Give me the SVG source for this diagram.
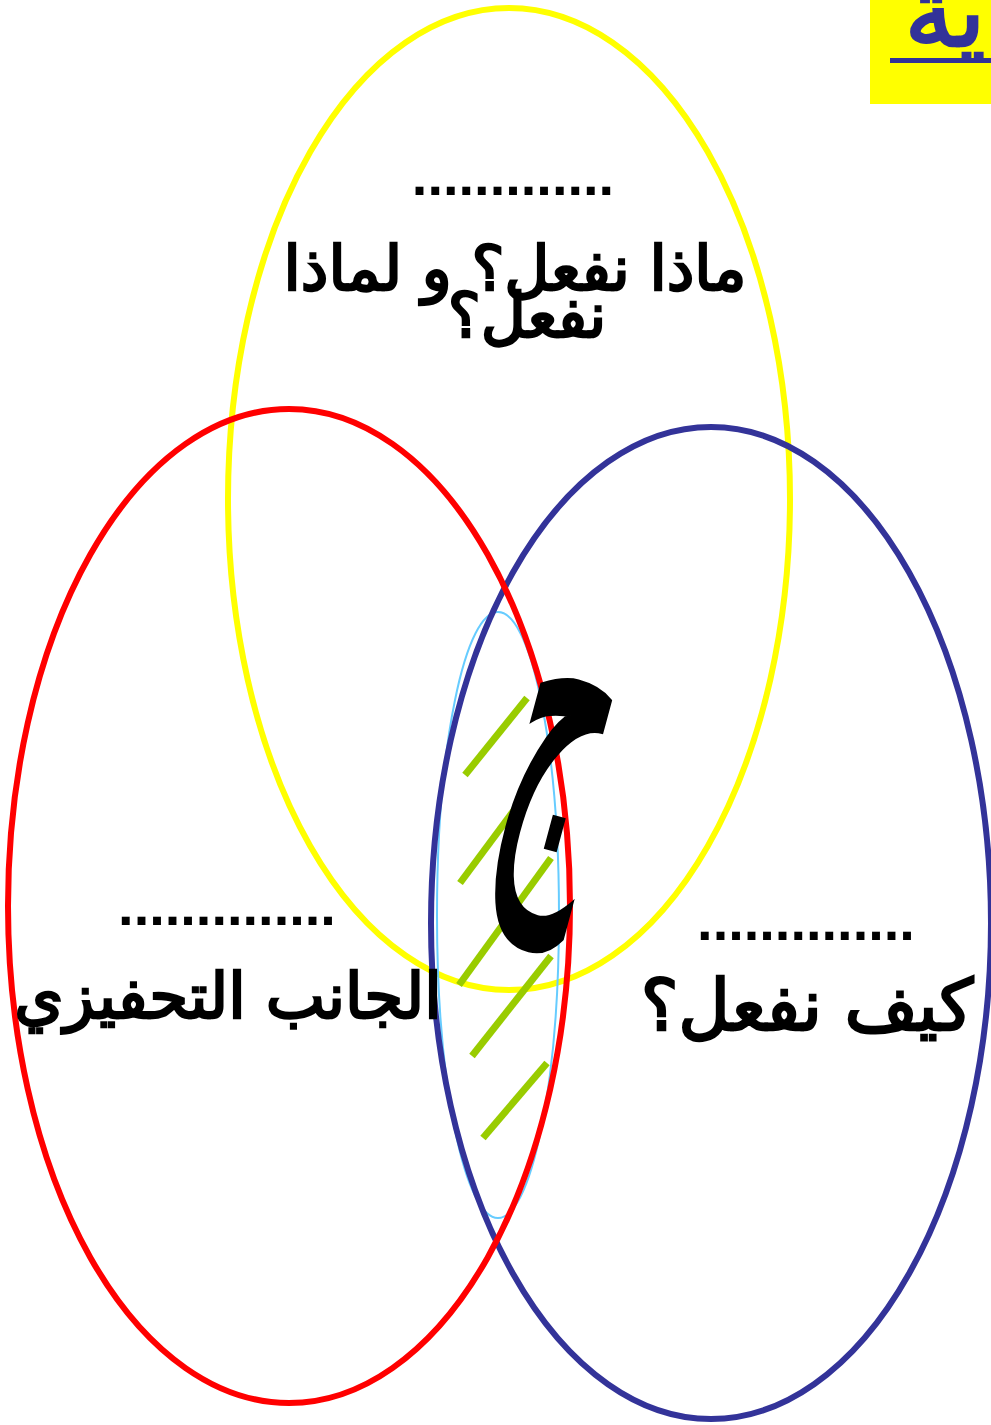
<svg xmlns="http://www.w3.org/2000/svg" width="991" height="1425" viewBox="0 0 991 1425">
<style>
.ar{font-family:"DejaVu Sans",sans-serif;font-weight:normal;fill:#000;stroke:#000;stroke-width:2.5;stroke-linejoin:miter;text-anchor:middle}
.dots{font-family:"Liberation Sans",sans-serif;font-weight:bold;font-size:56px;fill:#000;text-anchor:middle}
.ell{fill:none;stroke-width:6}
.hatch{stroke:#99CC00;stroke-width:7;stroke-linecap:butt}
</style>
<rect width="991" height="1425" fill="#fff"/>
<g id="title">
<rect x="870" y="0" width="121" height="104" fill="#FFFF00"/>
<text x="945" y="46" class="ar" style="fill:#333399;stroke:#333399;font-size:100px" direction="rtl">ية</text>
<rect x="890" y="58" width="101" height="5" fill="#333399"/>
</g>
<g id="circles">
<ellipse id="what" cx="509" cy="499" rx="281" ry="491" class="ell" stroke="#FFFF00"/>
<ellipse id="core" cx="498" cy="915" rx="61" ry="303" fill="none" stroke="#66CCFF" stroke-width="2"/>
<ellipse id="how" cx="711" cy="923" rx="280" ry="496" class="ell" stroke="#333399"/>
<ellipse id="motiv" cx="289" cy="906" rx="281" ry="497" class="ell" stroke="#FF0000"/>
</g>
<g id="hatching">
<line x1="465" y1="775" x2="527" y2="698" class="hatch"/>
<line x1="460" y1="883" x2="535" y2="782" class="hatch"/>
<line x1="459" y1="985" x2="551" y2="858" class="hatch"/>
<line x1="472" y1="1056" x2="551" y2="956" class="hatch"/>
<line x1="483" y1="1138" x2="547" y2="1063" class="hatch"/>
</g>
<g id="node-what">
<text x="513" y="195" class="dots">.............</text>
<text x="515" y="290" class="ar" style="font-size:62px" direction="rtl">ماذا نفعل؟ و لماذا</text>
<text x="527" y="337" class="ar" style="font-size:62px" direction="rtl">نفعل؟</text>
</g>
<g id="node-motiv">
<text x="227" y="925" class="dots">..............</text>
<text x="228" y="1018" class="ar" style="font-size:63px" direction="rtl">الجانب التحفيزي</text>
</g>
<g id="node-how">
<text x="806" y="940" class="dots">..............</text>
<text x="807" y="1030" class="ar" style="font-size:71px" direction="rtl">كيف نفعل؟</text>
</g>
<g id="node-core">
<text class="ar" style="font-size:180px" transform="translate(536,849) rotate(15) scale(0.85,2.25)">ج</text>
</g>
</svg>
